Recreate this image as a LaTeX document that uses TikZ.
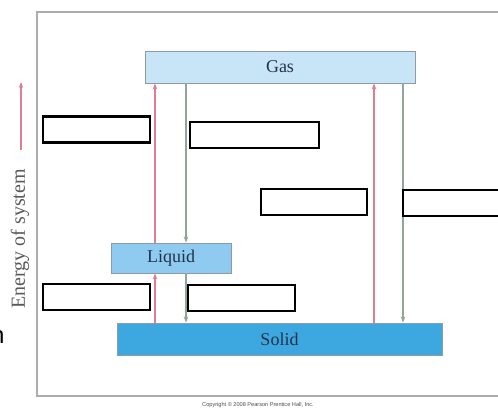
\documentclass[tikz,border=0pt]{standalone}
\usepackage{fontspec}
\setmainfont{Liberation Serif}
\setsansfont{Liberation Sans}
\usepackage{tikz}
\usetikzlibrary{arrows.meta,positioning,calc}
\definecolor{framegrey}{HTML}{A9ADB0}
\definecolor{boxedge}{HTML}{8C9BA6}
\definecolor{gasfill}{HTML}{C8E5F8}
\definecolor{liqfill}{HTML}{8FCBF0}
\definecolor{solfill}{HTML}{3DA8E0}
\definecolor{labelink}{HTML}{23324A}
\definecolor{heatred}{HTML}{DE7F90}
\definecolor{heattip}{HTML}{A83A55}
\definecolor{coolgreen}{HTML}{8FA698}
\definecolor{cooltip}{HTML}{55705F}
\tikzset{
  % ---- phase boxes ----------------------------------------------------
  phase/.style={
    draw=boxedge, line width=0.9pt, inner sep=0pt, text=labelink,
    font=\fontsize{18}{18}\selectfont},
  phasegas/.style={phase, fill=gasfill, minimum width=270pt, minimum height=32pt},
  phaseliq/.style={phase, fill=liqfill, minimum width=120pt, minimum height=30pt},
  phasesol/.style={phase, fill=solfill, minimum width=325pt, minimum height=32pt},
  % ---- answer blanks --------------------------------------------------
  blank/.style={draw=black, line width=2.6pt, fill=white, inner sep=0pt},
  % ---- transitions ----------------------------------------------------
  heatup/.style={
    -{Stealth[length=6pt,width=4.5pt,fill=heattip]}, draw=heatred, line width=1.1pt},
  cooldown/.style={
    -{Stealth[length=6pt,width=4.5pt,fill=cooltip]}, draw=coolgreen, line width=1.1pt},
  % ---- frame ----------------------------------------------------------
  axis/.style={draw=framegrey, line width=1.4pt},
  mtiny/.style={font=\sffamily\fontsize{5.6}{5.6}\selectfont, text=black!70},
}
\begin{document}
\begin{tikzpicture}[x=1pt, y=-1pt]
\useasboundingbox (0,0) rectangle (498,411);

\def\xl{155}    % heating arrows, left pair
\def\xm{186}    % cooling arrows, left pair
\def\xr{374}    % heating arrow, right
\def\xs{403}    % cooling arrow, right

% ---- frame -----------------------------------------------------------
\draw[axis] (500,12) -- (37,12) -- (37,396) -- (500,396);

% ---- phases ----------------------------------------------------------
\node[phasegas] (gas) at (280,67) {Gas};
\node[phaseliq] (liquid) at (171,258) {Liquid};
\node[phasesol] (solid) at (279.5,339) {Solid};

% ---- transitions -----------------------------------------------------
\draw[heatup]   (liquid.north -| \xl,0) -- (gas.south -| \xl,0);
\draw[cooldown] (gas.south -| \xm,0) -- (liquid.north -| \xm,0);
\draw[heatup]   (solid.north -| \xl,0) -- (liquid.south -| \xl,0);
\draw[cooldown] (liquid.south -| \xm,0) -- (solid.north -| \xm,0);
\draw[heatup]   (solid.north -| \xr,0) -- (gas.south -| \xr,0);
\draw[cooldown] (gas.south -| \xs,0) -- (solid.north -| \xs,0);

% ---- energy axis -----------------------------------------------------
\coordinate (elow) at (21,150);
\coordinate (ehigh) at (21,82);
\draw[heatup] (elow) -- (ehigh);
\node[rotate=90, font=\fontsize{20}{20}\selectfont, text=black!65] (elabel)
  at (20,239) {Energy of system};

% ---- blanks ----------------------------------------------------------
\foreach \n/\cx/\cy/\w in {1/96.5/129.5/107, 2/254.5/135/129, 3/314/202/106,
                          4/452.5/203/99, 5/96.5/297/107, 6/241.5/298/107}{
  \node[blank, minimum width=\w pt, minimum height=26pt] (blank\n) at (\cx,\cy) {};
}

% ---- stray letter and credit ----------------------------------------
\node[font=\sffamily\fontsize{24}{24}\selectfont, anchor=base east] (stray) at (8,344) {n};
\node[mtiny] (credit) at (258,405) {Copyright \textcopyright\ 2008 Pearson Prentice Hall, Inc.};

\end{tikzpicture}
\end{document}
